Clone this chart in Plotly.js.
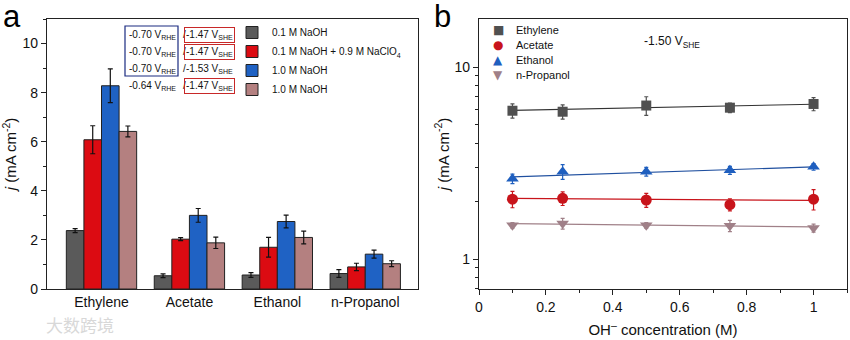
<!DOCTYPE html>
<html><head><meta charset="utf-8">
<script src="https://cdn.plot.ly/plotly-3.0.1.min.js"></script>
<style>body{margin:0;background:#fff}#c{width:850px;height:340px}</style>
</head><body><div id="c"></div>
<script>
// Panel a data
const categories = ['Ethylene', 'Acetate', 'Ethanol', 'n-Propanol'];
const seriesNames = ['0.1 M NaOH', '0.1 M NaOH + 0.9 M NaClO<sub>4</sub>', '1.0 M NaOH', '1.0 M NaOH'];
const naoh01 = [2.38, 0.54, 0.57, 0.63];
const naoh01Err = [0.08, 0.08, 0.1, 0.16];
const naoh01Clo4 = [6.08, 2.03, 1.70, 0.90];
const naoh01Clo4Err = [0.57, 0.06, 0.40, 0.15];
const naoh10 = [8.28, 3.00, 2.75, 1.42];
const naoh10Err = [0.69, 0.28, 0.26, 0.16];
const naoh10b = [6.42, 1.88, 2.10, 1.03];
const naoh10bErr = [0.22, 0.23, 0.26, 0.12];
const potentialRHE = ['-0.70', '-0.70', '-0.70', '-0.64'];
const potentialSHE = ['-1.47', '-1.47', '-1.53', '-1.47'];

// Panel b data
const products = ['Ethylene', 'Acetate', 'Ethanol', 'n-Propanol'];
const conc = [0.1, 0.25, 0.5, 0.75, 1.0];
const ethylene = [5.92, 5.85, 6.30, 6.14, 6.42];
const ethyleneErr = [0.5, 0.5, 0.7, 0.35, 0.5];
const acetate = [2.05, 2.07, 2.03, 1.92, 2.05];
const acetateErr = [0.2, 0.17, 0.17, 0.14, 0.25];
const ethanol = [2.62, 2.85, 2.85, 2.90, 3.02];
const ethanolErr = [0.15, 0.25, 0.15, 0.14, 0.12];
const propanol = [1.50, 1.53, 1.50, 1.49, 1.45];
const propanolErr = [0.05, 0.1, 0.05, 0.1, 0.07];
const fitX = [0.1, 1.0];
const ethyleneFit = [5.95, 6.40];
const acetateFit = [2.07, 2.02];
const ethanolFit = [2.68, 3.02];
const propanolFit = [1.53, 1.47];

const barColors = ['#5a5a5a', '#dc0b12', '#1f62c4', '#b48080'];
const barVals = [naoh01, naoh01Clo4, naoh10, naoh10b];
const barErrs = [naoh01Err, naoh01Clo4Err, naoh10Err, naoh10bErr];

const F = 'Liberation Sans, Arial, sans-serif';
const traces = [];
barVals.forEach((v, i) => {
  traces.push({
    type: 'bar', x: categories, y: v, name: seriesNames[i],
    xaxis: 'x', yaxis: 'y', legend: 'legend',
    marker: {color: barColors[i], line: {color: '#222', width: 1}},
    error_y: {type: 'data', array: barErrs[i], visible: true, color: '#111', thickness: 1.2, width: 2.5}
  });
});

const lineSets = [
  {y: ethylene, e: ethyleneErr, fit: ethyleneFit, color: '#505050', lc: '#333', sym: 'square', size: 10, glyph: '\u25A0'},
  {y: acetate, e: acetateErr, fit: acetateFit, color: '#c8141b', lc: '#c8141b', sym: 'circle', size: 11, glyph: '\u25CF'},
  {y: ethanol, e: ethanolErr, fit: ethanolFit, color: '#1f5fbf', lc: '#1f4f9f', sym: 'triangle-up', size: 11, glyph: '\u25B2'},
  {y: propanol, e: propanolErr, fit: propanolFit, color: '#a08088', lc: '#a08088', sym: 'triangle-down', size: 11, glyph: '\u25BC'}
];
lineSets.forEach(s => {
  traces.push({
    type: 'scatter', mode: 'lines', x: fitX, y: s.fit, xaxis: 'x2', yaxis: 'y2',
    line: {color: s.lc, width: 1.2}, showlegend: false, hoverinfo: 'skip'
  });
});
lineSets.forEach((s, i) => {
  traces.push({
    type: 'scatter', mode: 'markers', x: conc, y: s.y, name: products[i], xaxis: 'x2', yaxis: 'y2', showlegend: false,
    marker: {symbol: s.sym, size: s.size, color: s.color},
    error_y: {type: 'data', array: s.e, visible: true, color: s.color, thickness: 1.2, width: 2}
  });
});

const W = 850, plotTop = 19, plotBot = 289;
const px = x => x / W;
const py = y => (plotBot - y) / (plotBot - plotTop);

const annotations = [
  {text: 'a', x: px(1), y: py(-3), xref: 'paper', yref: 'paper', xanchor: 'left', showarrow: false, font: {family: F, size: 31, color: '#000'}},
  {text: 'b', x: px(442), y: py(-3), xref: 'paper', yref: 'paper', xanchor: 'center', showarrow: false, font: {family: F, size: 31, color: '#000'}},
  {text: '-1.50 V<sub>SHE</sub>', x: px(642), y: py(32), xref: 'paper', yref: 'paper', xanchor: 'left', showarrow: false, font: {family: F, size: 12, color: '#111'}},
  {text: '大数跨境', x: px(44), y: py(339), xref: 'paper', yref: 'paper', xanchor: 'left', showarrow: false, font: {family: 'Noto Sans CJK SC', size: 17, color: '#d8d8d8'}}
];
// panel b legend
const legY = [30, 45, 60, 75];
lineSets.forEach((s, i) => {
  annotations.push({text: s.glyph, x: px(498), y: py(legY[i]), xref: 'paper', yref: 'paper', xanchor: 'center', yanchor: 'middle', showarrow: false, font: {family: 'DejaVu Sans', size: 12, color: s.color}});
  annotations.push({text: products[i], x: px(514), y: py(legY[i]), xref: 'paper', yref: 'paper', xanchor: 'left', yanchor: 'middle', showarrow: false, font: {family: F, size: 11, color: '#111'}});
});
const rowY = [27, 44, 61, 78];
potentialRHE.forEach((r, i) => {
  annotations.push({text: r + ' V<sub>RHE</sub>', x: px(178), y: py(rowY[i]), xref: 'paper', yref: 'paper', xanchor: 'right', showarrow: false, font: {family: F, size: 10, color: '#111'}});
  annotations.push({text: '/', x: px(181), y: py(rowY[i]), xref: 'paper', yref: 'paper', showarrow: false, font: {family: F, size: 10, color: '#111'}});
  const boxed = potentialSHE[i] === '-1.47';
  annotations.push({text: potentialSHE[i] + ' V<sub>SHE</sub>', x: px(184), y: py(rowY[i]), xref: 'paper', yref: 'paper', xanchor: 'left', showarrow: false,
    font: {family: F, size: 10, color: '#111'}, bordercolor: boxed ? '#c82828' : 'rgba(0,0,0,0)', borderwidth: 1, borderpad: 1});
});

const shapes = [
  {type: 'rect', xref: 'paper', yref: 'paper', x0: px(125), x1: px(178), y0: py(26), y1: py(76), line: {color: '#1a2a80', width: 1.2}}
];

const axCommon = {showline: true, linecolor: '#222', linewidth: 1.2, mirror: true, showgrid: false, zeroline: false,
  tickfont: {family: F, size: 14, color: '#111'}, ticks: 'outside', ticklen: 5, tickcolor: '#222'};

const layout = {
  width: 850, height: 340, margin: {l: 0, r: 0, t: plotTop, b: 340 - plotBot},
  paper_bgcolor: '#fff', plot_bgcolor: '#fff', font: {family: F},
  barmode: 'group', bargap: 0.2, bargroupgap: 0,
  xaxis: Object.assign({}, axCommon, {domain: [px(47), px(418)], type: 'category', range: [-0.62, 3.6], ticks: '', tickfont: {family: F, size: 14, color: '#111'}}),
  yaxis: Object.assign({}, axCommon, {range: [0, 11], dtick: 2, minor: {dtick: 1, ticks: 'outside', ticklen: 3, tickcolor: '#222'},
    title: {text: '<i>j</i> (mA cm<sup>-2</sup>)', font: {family: F, size: 15, color: '#111'}, standoff: 8}}),
  xaxis2: Object.assign({}, axCommon, {domain: [px(479), px(847)], anchor: 'y2', range: [0, 1.1], tickvals: [0, 0.2, 0.4, 0.6, 0.8, 1], ticktext: ['0', '0.2', '0.4', '0.6', '0.8', '1'],
    minor: {tickvals: [0.1, 0.3, 0.5, 0.7, 0.9, 1.1], ticks: 'outside', ticklen: 3, tickcolor: '#222'},
    title: {text: 'OH<sup>\u2013</sup> concentration (M)', font: {family: F, size: 15, color: '#111'}, standoff: 10}}),
  yaxis2: Object.assign({}, axCommon, {anchor: 'x2', type: 'log', range: [-0.156, 1.25], tickvals: [1, 10], ticktext: ['1', '10'],
    minor: {tickvals: [0.7, 0.8, 0.9, 2, 3, 4, 5, 6, 7, 8, 9], ticks: 'outside', ticklen: 3, tickcolor: '#222'},
    title: {text: '<i>j</i> (mA cm<sup>-2</sup>)', font: {family: F, size: 15, color: '#111'}, standoff: 1}}),
  legend: {x: px(232), y: py(18), xanchor: 'left', yanchor: 'top', bgcolor: 'rgba(0,0,0,0)', font: {family: F, size: 10, color: '#111'}, tracegroupgap: 0},
  annotations: annotations, shapes: shapes, showlegend: true
};

Plotly.newPlot('c', traces, layout, {displayModeBar: false, staticPlot: true});
</script></body></html>
